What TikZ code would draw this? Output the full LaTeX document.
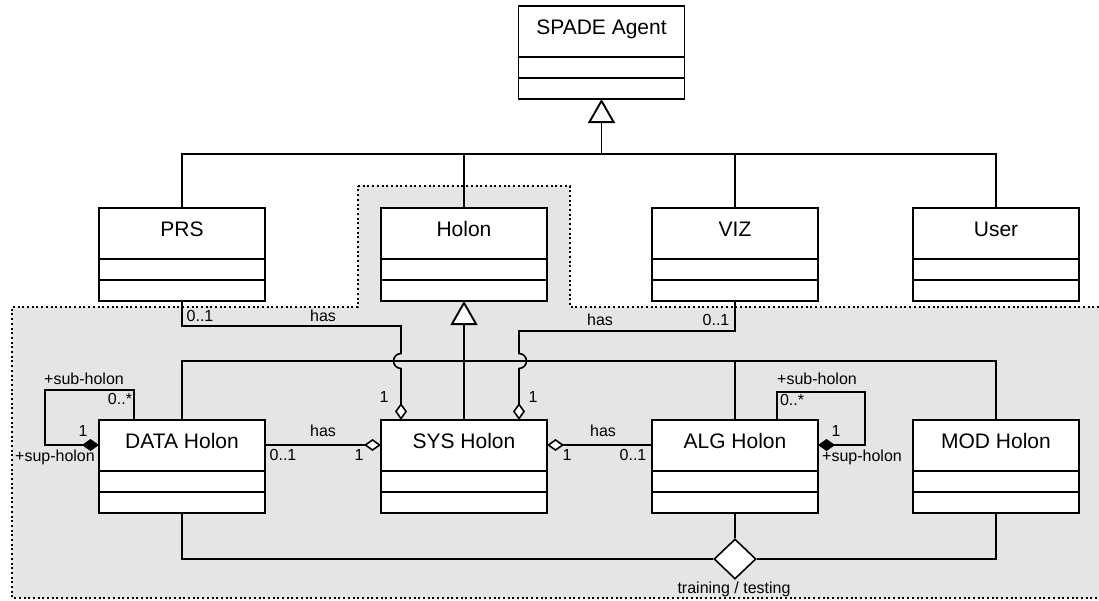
\documentclass[tikz,border=0pt]{standalone}
\usepackage{fontspec}
\setmainfont{Liberation Sans}
\usetikzlibrary{arrows.meta,shapes.geometric}
\newcommand{\umlcls}[4]{%
  \node[cls, anchor=north] (#1) at (#2,#3) {};
  \node[ttl] (#1-title) at ([yshift=-25pt]#1.north) {#4};
  \draw[boxline] ([yshift=-51pt]#1.north west) -- ([yshift=-51pt]#1.north east);
  \draw[boxline] ([yshift=-72pt]#1.north west) -- ([yshift=-72pt]#1.north east);
}
\begin{document}
\begin{tikzpicture}[x=1pt,y=-1pt,
  boxline/.style={line width=1.8pt},
  cls/.style={draw, line width=1.8pt, fill=white, minimum width=166pt, minimum height=93pt, inner sep=0pt, outer sep=0pt},
  ttl/.style={font=\fontsize{21}{25}\selectfont, inner sep=0pt, text height=0.72em, text depth=0pt},
  lbl/.style={font=\fontsize{16}{19}\selectfont, inner sep=0pt, text height=0.72em, text depth=0pt},
  conn/.style={line width=1.6pt},
  gen/.style={line width=1.9pt, -{Triangle[fill=white, length=24pt, width=27pt]}},
  agg/.style={conn, -{Diamond[fill=white, length=17pt, width=12pt]}},
  comp/.style={conn, -{Diamond[fill=black, length=17pt, width=12pt]}},
  region/.style={fill=gray!20, line width=2pt, dash pattern=on 2pt off 2.7pt}
]
\useasboundingbox (0,0) rectangle (1099,600);
% holon package region
\draw[region] (358,186) -- (570,186) -- (570,307) -- (1102,307) -- (1102,598) -- (12,598) -- (12,307) -- (358,307) -- cycle;

% classes
\umlcls{spade}{601.5}{6}{SPADE Agent}
\umlcls{prs}{182}{208}{PRS}
\umlcls{holon}{464}{208}{Holon}
\umlcls{viz}{735}{208}{VIZ}
\umlcls{user}{996}{208}{User}
\umlcls{data}{182}{420}{DATA Holon}
\umlcls{sys}{464}{420}{SYS Holon}
\umlcls{alg}{735}{420}{ALG Holon}
\umlcls{mod}{996}{420}{MOD Holon}

% generalization to SPADE Agent
\coordinate (g1) at (601.5,154);
\draw[conn] (prs.north) |- (user.north |- g1) -- (user.north);
\draw[conn] (holon.north) -- (holon.north |- g1);
\draw[conn] (viz.north) -- (viz.north |- g1);
\draw[gen] (g1) -- (spade.south);

% generalization to Holon
\coordinate (g2) at (464,361);
\draw[conn] (data.north) |- (mod.north |- g2) -- (mod.north);
\draw[conn] (alg.north) -- (alg.north |- g2);
\draw[gen] (sys.north) -- (holon.south);

% PRS -- SYS
\coordinate (p1) at (401,326);
\coordinate (hopL) at (401,353.5);
\draw[agg] (prs.south) |- (p1) -- (hopL) arc[start angle=90, end angle=270, radius=7.5pt] -- (p1 |- sys.north);
\node[lbl] (l1) at (200,318) {0..1};
\node[lbl] (l2) at (323,318) {has};
\node[lbl] (l3) at (384,399) {1};

% VIZ -- SYS
\coordinate (v1) at (519,331);
\coordinate (hopR) at (519,353.5);
\draw[agg] (viz.south) |- (v1) -- (hopR) arc[start angle=90, end angle=-90, radius=7.5pt] -- (v1 |- sys.north);
\node[lbl] (l4) at (600,322) {has};
\node[lbl] (l5) at (716,322) {0..1};
\node[lbl] (l6) at (533,399) {1};

% DATA -- SYS
\draw[agg] (data-title -| data.east) -- (data-title -| sys.west);
\node[lbl] (l7) at (323,433) {has};
\node[lbl] (l8) at (283,457) {0..1};
\node[lbl] (l9) at (359,457) {1};

% ALG -- SYS
\draw[agg] (alg-title -| alg.west) -- (sys-title -| sys.east);
\node[lbl] (l10) at (603,433) {has};
\node[lbl] (l11) at (567,457) {1};
\node[lbl] (l12) at (633,457) {0..1};

% DATA self loop
\coordinate (dl1) at (134,390);
\coordinate (dl2) at (45,390);
\draw[comp] (dl1 |- data.north) -- (dl1) -- (dl2) |- (data-title -| data.west);
\node[lbl] (l13) at (84,381) {+sub-holon};
\node[lbl] (l14) at (120,401) {0..*};
\node[lbl] (l15) at (83,433) {1};
\node[lbl] (l16) at (55,458) {+sup-holon};

% ALG self loop
\coordinate (al1) at (777,392);
\coordinate (al2) at (865,392);
\draw[comp] (al1 |- alg.north) -- (al1) -- (al2) |- (alg-title -| alg.east);
\node[lbl] (l17) at (817,381) {+sub-holon};
\node[lbl] (l18) at (792,402) {0..*};
\node[lbl] (l19) at (836,433) {1};
\node[lbl] (l20) at (862,458) {+sup-holon};

% training / testing n-ary association
\node[draw, diamond, fill=white, minimum width=42pt, minimum height=40pt, inner sep=0pt, line width=1.6pt] (tern) at (735,559) {};
\draw[conn] (data.south) |- (tern.west);
\draw[conn] (mod.south) |- (tern.east);
\draw[conn] (alg.south) -- (tern.north);
\node[lbl] (tt) at (734,590) {training / testing};
\end{tikzpicture}
\end{document}
